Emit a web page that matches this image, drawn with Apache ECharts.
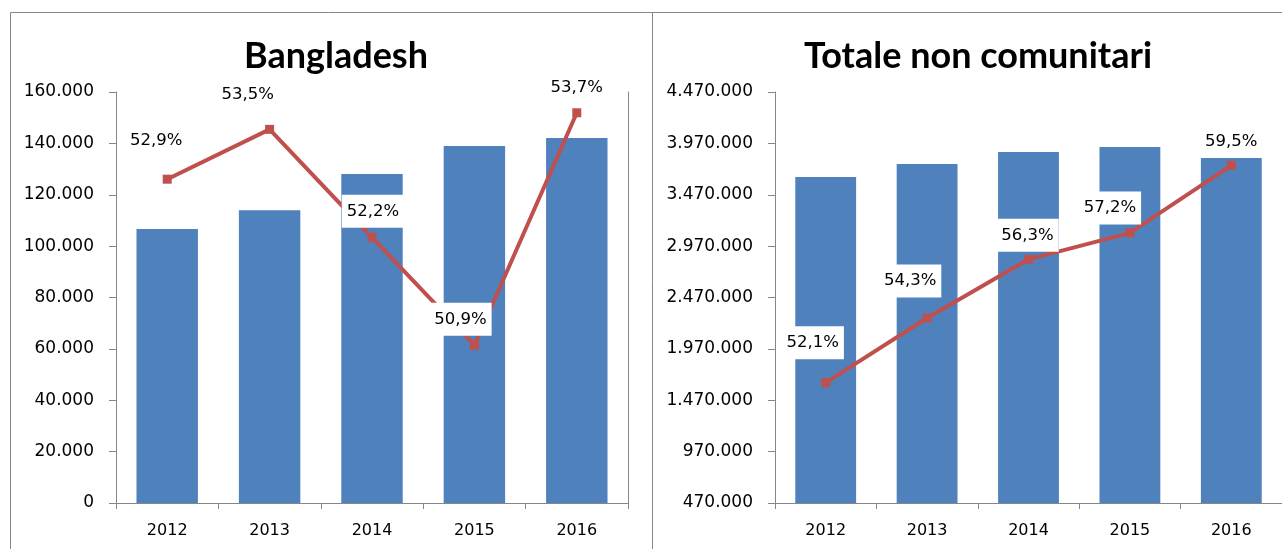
<!DOCTYPE html>
<html>
<head>
<meta charset="utf-8">
<script src="https://cdn.jsdelivr.net/npm/echarts@6/dist/echarts.min.js"></script>
<style>
    html, body { margin: 0; padding: 0; background: #fff; }
    #chart { width: 1282px; height: 549px; }
</style>
</head>
<body>
<div id="chart"></div>
<script>
// dati
var years = ['2012', '2013', '2014', '2015', '2016'];
var bangladeshTotal = [106700, 114000, 128100, 139000, 142100];
var bangladeshPct = [52.9, 53.5, 52.2, 50.9, 53.7];
var nonUeTotal = [3643000, 3769000, 3886000, 3935000, 3867000];
var nonUePct = [52.1, 54.3, 56.3, 57.2, 59.5];
var titles = ['Bangladesh', 'Totale non comunitari'];
// scala assi
var leftAxisRange = [0, 160000, 20000];
var rightAxisRange = [470000, 4470000, 500000];
var leftPctRange = [49, 53.95];
var rightPctRange = [48, 62];
// spostamento etichette percentuali
var leftLabelOffset = [[-11, -38], [-22, -35], [1, -26], [-14, -26], [0, -25]];
var rightLabelOffset = [[-13, -40], [-17, -37], [-1, -24], [-20, -25], [0, -24]];

var blue = '#4F81BD';
var red = '#C0504D';
var axisGray = '#868686';
var font = 'DejaVu Sans';

function thousands(v) {
    return String(v).replace(/\B(?=(\d{3})+(?!\d))/g, '.');
}

function pctData(values, offsets) {
    var out = [];
    for (var i = 0; i < values.length; i++) {
        out.push({ value: values[i], label: { offset: offsets[i] } });
    }
    return out;
}

var chart = echarts.init(document.getElementById('chart'));

var catAxis = function (gridIndex) {
    return {
        type: 'category',
        gridIndex: gridIndex,
        data: years,
        axisLine: { lineStyle: { color: axisGray, width: 1 } },
        axisTick: { show: true, length: 6, lineStyle: { color: axisGray } },
        axisLabel: { color: '#000', fontFamily: font, fontSize: 16, margin: 20 }
    };
};

var valAxis = function (gridIndex, range) {
    return {
        type: 'value',
        gridIndex: gridIndex,
        min: range[0],
        max: range[1],
        interval: range[2],
        splitLine: { show: false },
        axisLine: { show: true, lineStyle: { color: axisGray, width: 1 } },
        axisTick: { show: true, length: 7, lineStyle: { color: axisGray } },
        axisLabel: {
            color: '#000', fontFamily: font, fontSize: 17, margin: 22,
            formatter: function (v) { return thousands(v); }
        }
    };
};

var pctAxis = function (gridIndex, range) {
    return {
        type: 'value',
        gridIndex: gridIndex,
        position: 'right',
        min: range[0],
        max: range[1],
        splitLine: { show: false },
        axisLine: { show: true, lineStyle: { color: axisGray, width: 1 } },
        axisTick: { show: false },
        axisLabel: { show: false }
    };
};

var pctLabel = {
    show: true,
    position: 'inside',
    formatter: function (p) { return p.value.toFixed(1).replace('.', ',') + '%'; },
    color: '#000',
    fontFamily: font,
    fontSize: 16.5,
    lineHeight: 15,
    backgroundColor: '#fff',
    padding: [9, 5]
};

var option = {
    animation: false,
    backgroundColor: '#fff',
    title: [
        { text: titles[0], left: 331, top: 33, textAlign: 'center',
          textStyle: { fontFamily: 'Lato', fontWeight: 'bold', fontSize: 36, color: '#000' } },
        { text: titles[1], left: 973, top: 33, textAlign: 'center',
          textStyle: { fontFamily: 'Lato', fontWeight: 'bold', fontSize: 36, color: '#000' } }
    ],
    grid: [
        { left: 116, right: 654, top: 92, bottom: 46 },
        { left: 775, right: -5, top: 92, bottom: 46 }
    ],
    xAxis: [catAxis(0), catAxis(1)],
    yAxis: [
        valAxis(0, leftAxisRange), pctAxis(0, leftPctRange),
        valAxis(1, rightAxisRange), pctAxis(1, rightPctRange)
    ],
    series: [
        { type: 'bar', xAxisIndex: 0, yAxisIndex: 0, data: bangladeshTotal,
          barWidth: '60%', itemStyle: { color: blue } },
        { type: 'line', xAxisIndex: 0, yAxisIndex: 1, data: pctData(bangladeshPct, leftLabelOffset),
          symbol: 'rect', symbolSize: 9, lineStyle: { color: red, width: 4 },
          itemStyle: { color: red }, label: pctLabel },
        { type: 'bar', xAxisIndex: 1, yAxisIndex: 2, data: nonUeTotal,
          barWidth: '60%', itemStyle: { color: blue } },
        { type: 'line', xAxisIndex: 1, yAxisIndex: 3, data: pctData(nonUePct, rightLabelOffset),
          symbol: 'rect', symbolSize: 9, lineStyle: { color: red, width: 4 },
          itemStyle: { color: red }, label: pctLabel }
    ],
    // cornici dei due grafici
    graphic: [
        { type: 'line', shape: { x1: 10.5, y1: 12.5, x2: 1282, y2: 12.5 },
          style: { stroke: axisGray, lineWidth: 1 } },
        { type: 'line', shape: { x1: 10.5, y1: 12.5, x2: 10.5, y2: 549 },
          style: { stroke: axisGray, lineWidth: 1 } },
        { type: 'line', shape: { x1: 652.5, y1: 12.5, x2: 652.5, y2: 549 },
          style: { stroke: axisGray, lineWidth: 1 } }
    ]
};

chart.setOption(option);
</script>
</body>
</html>
